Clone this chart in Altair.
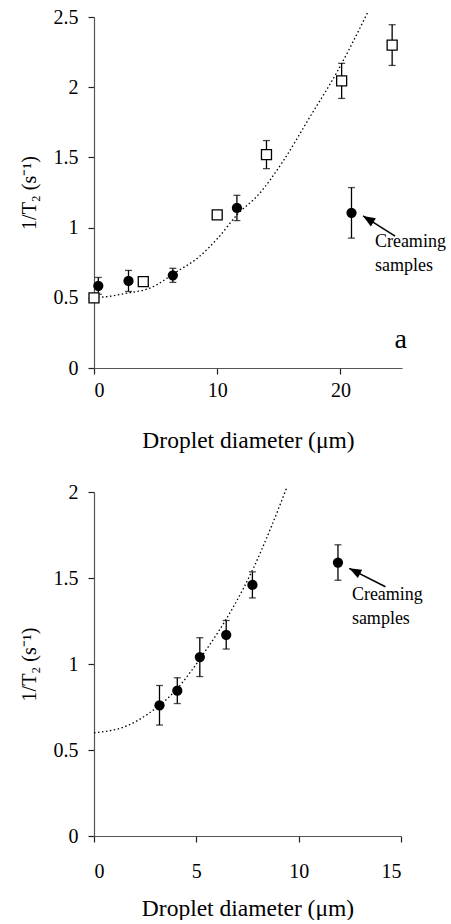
import altair as alt
import pandas as pd

FONT = "Times New Roman, Liberation Serif, serif"

# ---------- Panel a (top) ----------
a_circ_x = [0.35, 2.8, 6.4, 11.6, 20.9]
a_circ_y = [0.585, 0.62, 0.66, 1.14, 1.105]
a_circ_err = [0.06, 0.075, 0.05, 0.09, 0.18]

a_sq_x = [0.0, 4.0, 10.0, 14.0, 20.1, 24.2]
a_sq_y = [0.50, 0.615, 1.09, 1.52, 2.045, 2.30]
a_sq_err = [0.01, 0.015, 0.02, 0.10, 0.125, 0.145]

a_fit_x = [0.0, 1.2, 2.5, 4.7, 6.6, 8.5, 10.1, 11.7, 13.3, 15.4, 17.4, 19.8, 22.2]
a_fit_y = [0.50, 0.51, 0.53, 0.575, 0.68, 0.79, 0.93, 1.10, 1.23, 1.48, 1.77, 2.12, 2.53]

# ---------- Panel b (bottom) ----------
b_circ_x = [3.2, 4.07, 5.17, 6.46, 7.74, 11.92]
b_circ_y = [0.76, 0.845, 1.04, 1.17, 1.46, 1.59]
b_circ_err = [0.115, 0.075, 0.113, 0.083, 0.076, 0.103]

b_fit_x = [0.0, 1.6, 2.7, 4.05, 5.35, 6.8, 7.8, 8.6, 9.4]
b_fit_y = [0.60, 0.64, 0.715, 0.855, 1.06, 1.33, 1.56, 1.78, 2.02]

# annotation text
note_lines = ["Creaming", "samples"]


def errbars(df, xs, ys):
    base = alt.Chart(df)
    stem = base.mark_rule(color="black", strokeWidth=1.3).encode(
        x=alt.X("x:Q", scale=xs), y=alt.Y("lo:Q", scale=ys), y2="hi:Q")
    cap_hi = base.mark_tick(orient="horizontal", size=7, thickness=1.3, color="black").encode(
        x=alt.X("x:Q", scale=xs), y=alt.Y("hi:Q", scale=ys))
    cap_lo = base.mark_tick(orient="horizontal", size=7, thickness=1.3, color="black").encode(
        x=alt.X("x:Q", scale=xs), y=alt.Y("lo:Q", scale=ys))
    return stem + cap_hi + cap_lo


def points_df(xs, ys, es):
    return pd.DataFrame({"x": xs, "y": ys,
                         "lo": [y - e for y, e in zip(ys, es)],
                         "hi": [y + e for y, e in zip(ys, es)]})


def panel(xdom, xticks, ydom, yticks, circ, sq, fit, arrow, text_pos, extra_text, w, h,
          xlabpad, xtitlepad):
    xs = alt.Scale(domain=xdom, nice=False, zero=False)
    ys = alt.Scale(domain=ydom, nice=False, zero=False)
    xax = alt.Axis(values=xticks, title="Droplet diameter (\u03bcm)", format="~g",
                   labelPadding=xlabpad, titlePadding=xtitlepad)
    yax = alt.Axis(values=yticks, title="1/T\u2082 (s\u207b\u00b9)", format=".1~f")

    fit_df = pd.DataFrame({"x": fit[0], "y": fit[1]})
    fit_line = alt.Chart(fit_df).mark_line(
        color="black", strokeWidth=1.3, strokeDash=[1.5, 2.5], interpolate="monotone", clip=False
    ).encode(x=alt.X("x:Q", scale=xs, axis=xax), y=alt.Y("y:Q", scale=ys, axis=yax))

    layers = [fit_line]
    cdf = points_df(*circ)
    layers.append(errbars(cdf, xs, ys))
    layers.append(alt.Chart(cdf).mark_circle(size=105, color="black", opacity=1).encode(
        x=alt.X("x:Q", scale=xs), y=alt.Y("y:Q", scale=ys)))
    if sq is not None:
        sdf = points_df(*sq)
        layers.append(errbars(sdf, xs, ys))
        layers.append(alt.Chart(sdf).mark_point(
            shape="square", filled=True, fill="white", stroke="black", strokeWidth=1.3,
            size=100, opacity=1).encode(x=alt.X("x:Q", scale=xs), y=alt.Y("y:Q", scale=ys)))

    # arrow
    (tx, ty, hx, hy, ang) = arrow
    adf = pd.DataFrame({"x": [tx], "y": [ty], "x2": [hx], "y2": [hy]})
    layers.append(alt.Chart(adf).mark_rule(color="black", strokeWidth=1.5).encode(
        x=alt.X("x:Q", scale=xs), y=alt.Y("y:Q", scale=ys), x2="x2:Q", y2="y2:Q"))
    hdf = pd.DataFrame({"x": [hx], "y": [hy]})
    layers.append(alt.Chart(hdf).mark_point(
        shape="M0,0 L-0.55,1.4 L0.55,1.4 Z", filled=True, color="black", opacity=1,
        size=300, angle=ang).encode(x=alt.X("x:Q", scale=xs), y=alt.Y("y:Q", scale=ys)))

    # note text
    ndf = pd.DataFrame({"t": note_lines, "x": [text_pos[0]] * 2,
                        "y": [text_pos[1], text_pos[2]]})
    layers.append(alt.Chart(ndf).mark_text(
        align="left", baseline="middle", font=FONT, fontSize=18, color="black"
    ).encode(x=alt.X("x:Q", scale=xs), y=alt.Y("y:Q", scale=ys), text="t:N"))

    if extra_text is not None:
        edf = pd.DataFrame({"t": [extra_text[0]], "x": [extra_text[1]], "y": [extra_text[2]]})
        layers.append(alt.Chart(edf).mark_text(
            align="center", baseline="middle", font=FONT, fontSize=28, color="black"
        ).encode(x=alt.X("x:Q", scale=xs), y=alt.Y("y:Q", scale=ys), text="t:N"))

    return alt.layer(*layers).properties(width=w, height=h)


top = panel([0, 25], [0, 10, 20], [0, 2.5], [0, 0.5, 1, 1.5, 2, 2.5],
            (a_circ_x, a_circ_y, a_circ_err), (a_sq_x, a_sq_y, a_sq_err),
            (a_fit_x, a_fit_y),
            (24.44, 0.94, 21.84, 1.083, 302),
            (22.8, 0.895, 0.725),
            ("a", 24.9, 0.2),
            308, 351, 6, 28)

bottom = panel([0, 15], [0, 5, 10, 15], [0, 2], [0, 0.5, 1, 1.5, 2],
               (b_circ_x, b_circ_y, b_circ_err), None,
               (b_fit_x, b_fit_y),
               (14.24, 1.449, 12.47, 1.556, 297),
               (12.6, 1.40, 1.26),
               None,
               307, 344, 19, 15)

chart = alt.vconcat(top, bottom, spacing=30).properties(
    padding={"left": 19, "top": 7, "right": 0, "bottom": 0}
).configure_view(stroke=None).configure_axis(
    grid=False,
    domainColor="#555555",
    domainWidth=1.2,
    tickColor="#222222",
    tickSize=6,
    tickWidth=1.2,
    labelFont=FONT,
    labelFontSize=20,
    labelColor="black",
    labelPadding=10,
    titleFont=FONT,
    titleFontWeight="normal",
    titleColor="black",
).configure_axisX(
    titleFontSize=23.5
).configure_axisY(
    titleFontSize=20, titlePadding=14
)

chart.save("out.html", embed_options={"renderer": "svg", "actions": False})
